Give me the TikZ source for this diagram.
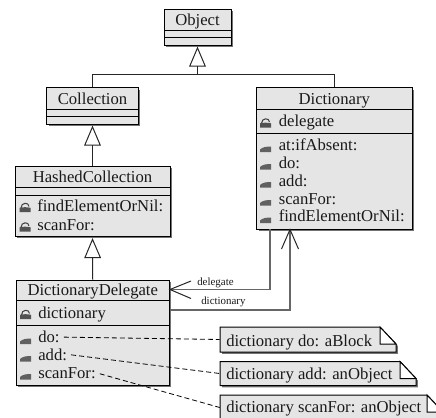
\documentclass[tikz,border=0pt]{standalone}
\usepackage{fontspec}
\usetikzlibrary{arrows.meta}
\setmainfont{Liberation Serif}
\definecolor{boxfill}{gray}{0.9}
\definecolor{shadowc}{gray}{0.45}
\tikzset{
  x=0.75pt,y=-0.75pt,
  wire/.style={line width=0.75pt,draw=black!85},
  gen/.style={wire,-{Triangle[open,fill=white,length=15pt,width=12.5pt]},shorten >=0.8pt},
  assoc/.style={line width=1pt,draw=black!60},
  barb/.style={line width=0.75pt,draw=black!85},
  sepline/.style={line width=0.75pt,draw=black},
  umlnode/.style={draw=black,fill=boxfill,line width=0.75pt,inner sep=0pt},
  shadowfill/.style={fill=shadowc,draw=none},
  member/.style={font=\fontsize{12.5pt}{14pt}\selectfont,inner sep=0pt,anchor=base west,text=black!90},
  title/.style={font=\fontsize{12.5pt}{14pt}\selectfont,inner sep=0pt,anchor=base,text=black!90},
  assoclabel/.style={font=\fontsize{8.2pt}{9pt}\selectfont,inner sep=0pt,anchor=base west,text=black!90},
  noteanchor/.style={inner sep=0pt,draw=none},
  dashline/.style={line width=0.6pt,draw=black,dash pattern=on 3.75pt off 2.25pt,shorten <=3pt},
}
% name, x1, y1, x2, y2, title, sep1, sep2
\newcommand{\umlclass}[8]{%
  \fill[shadowfill] (#2+2,#3+2) rectangle (#4+1.8,#5+1.8);
  \node[umlnode,minimum width={(#4-#2)*0.75pt},minimum height={(#5-#3)*0.75pt}] (#1) at ({(#2+#4)/2},{(#3+#5)/2}) {};
  \draw[sepline] (#2,#7) -- (#4,#7);
  \draw[sepline] (#2,#8) -- (#4,#8);
  \node[title] (#1-title) at ({(#2+#4)/2},#7-5) {#6};
}
% x of icon centre, text baseline
\newcommand{\lockopen}[2]{%
  \draw[black!75,line width=0.8pt] (#1-4,#2-3) .. controls (#1-4,#2-9) and (#1+4,#2-9) .. (#1+4,#2-4.5);
  \fill[black!68] (#1-5.5,#2-3.2) .. controls (#1-2,#2-4) and (#1+2,#2-4) .. (#1+5.5,#2-3.2) -- (#1+5.5,#2+1) -- (#1-5.5,#2+1) -- cycle;
}
\newcommand{\lockshut}[2]{%
  \fill[black!62] (#1-5.5,#2+1.5) -- (#1-5.5,#2-1) .. controls (#1-3,#2-3.5) and (#1+1,#2-4) .. (#1+5.5,#2-4) -- (#1+5.5,#2+1.5) -- cycle;
}
% name, x1, y1, x2, y2, text, baseline
\newcommand{\umlnote}[7]{%
  \fill[shadowfill] (#2+2,#3+2) -- (#4-14,#3+2) -- (#4+1.8,#3+19) -- (#4+1.8,#5+1.8) -- (#2+2,#5+1.8) -- cycle;
  \node[noteanchor,minimum width={(#4-#2)*0.75pt},minimum height={(#5-#3)*0.75pt}] (#1) at ({(#2+#4)/2},{(#3+#5)/2}) {};
  \draw[umlnode] (#2,#3) -- (#4-16,#3) -- (#4,#3+17) -- (#4,#5) -- (#2,#5) -- cycle;
  \draw[line width=0.75pt,draw=black,fill=white] (#4-16,#3) -- (#4-16,#3+17) -- (#4,#3+17) -- cycle;
  \node[member] (#1-text) at (#2+6,#7) {#6};
}
\begin{document}
\begin{tikzpicture}
\useasboundingbox (0,0) rectangle (436,418);
\clip (0,0) rectangle (436,418);
\umlclass{object}{164}{9}{231}{45}{Object}{30}{37}
\umlclass{coll}{46.5}{87.5}{138.5}{124}{Collection}{109}{116.5}
\umlclass{hash}{15}{166}{170}{236.5}{HashedCollection}{187}{195}
\umlclass{dd}{16}{280}{169.5}{385}{DictionaryDelegate}{300.5}{325.5}
\umlclass{dict}{256.5}{87.5}{412}{229}{Dictionary}{109}{133.5}
% members
\lockopen{25}{211}\node[member] (h1) at (37,211.5) {findElementOrNil:};
\lockopen{25}{230.5}\node[member] (h2) at (37,230.5) {scanFor:};
\lockopen{25.5}{318}\node[member] (d0) at (38,318) {dictionary};
\lockshut{25.5}{342.5}\node[member] (d1) at (38,342.7) {do:};
\lockshut{25.5}{360}\node[member] (d2) at (38,360) {add:};
\lockshut{25.5}{378}\node[member] (d3) at (38,378) {scanFor:};
\lockopen{265.5}{126.5}\node[member] (k0) at (278.5,126.7) {delegate};
\lockshut{265.5}{150.5}\node[member] (k1) at (278.5,150.7) {at:ifAbsent:};
\lockshut{265.5}{168}\node[member] (k2) at (278.5,168) {do:};
\lockshut{265.5}{186}\node[member] (k3) at (278.5,186) {add:};
\lockshut{265.5}{204}\node[member] (k4) at (278.5,204) {scanFor:};
\lockshut{265.5}{221.5}\node[member] (k5) at (278.5,221.7) {findElementOrNil:};
% notes
\umlnote{n1}{220}{327}{396}{352}{dictionary do: aBlock}{346}
\umlnote{n2}{220}{361.5}{416}{385.5}{dictionary add: anObject}{379}
\umlnote{n3}{220}{395}{443}{420}{dictionary scanFor: anObject}{412.5}
% generalisations
\coordinate (trunk) at (197.5,74);
\draw[wire] (dict.north) |- (trunk);
\draw[gen] (coll.north) |- (trunk) -- (object.south);
\draw[gen] (hash.north) -- (coll.south);
\draw[gen] (dd.north) -- (hash.south);
% associations
\coordinate (delStart) at (270,229);
\coordinate (delEnd) at (170,289.5);
\coordinate (dicStart) at (170,310);
\coordinate (dicEnd) at (290,229.5);
\draw[assoc] (delStart) |- (delEnd);
\draw[assoc] (dicStart) -| (dicEnd);
\draw[barb] (191,281) -- (delEnd) -- (191,298.5);
\draw[barb] (281.5,249) -- (dicEnd) -- (298.5,249);
\node[assoclabel] (dellab) at (197,285) {delegate};
\node[assoclabel] (diclab) at (201,304) {dictionary};
% note links
\draw[dashline] (d1.east) -- (n1.west);
\draw[dashline] (d2.east) -- (n2.west);
\draw[dashline] (d3.east) -- (n3.west);
\end{tikzpicture}
\end{document}
